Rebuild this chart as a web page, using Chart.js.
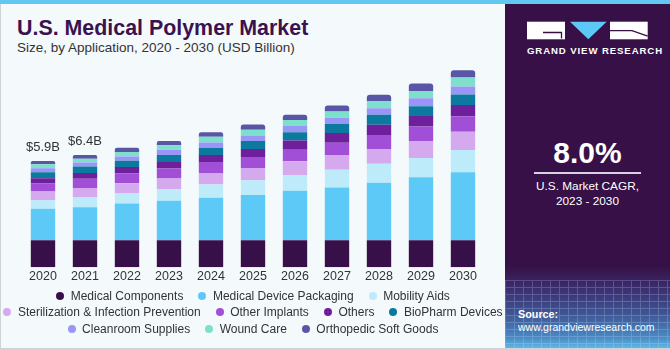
<!DOCTYPE html>
<html>
<head>
<meta charset="utf-8">
<script src="https://cdn.jsdelivr.net/npm/chart.js@4.4.1/dist/chart.umd.min.js"></script>
<style>
  html, body { margin: 0; padding: 0; }
  body { width: 670px; height: 350px; position: relative; overflow: hidden; background: #F4F9FC; font-family: "Liberation Sans", Arial, sans-serif; }
  #frame { position: absolute; left: 0; top: 0; width: 669px; height: 348px; border-left: 1px solid #cfd3d6; border-bottom: 2px solid #cfd3d6; box-sizing: content-box; }
  #topstrip { position: absolute; left: 0; top: 0; width: 670px; height: 4px; background: #62C8F2; }
  #title { position: absolute; left: 17px; top: 17.5px; font-size: 21.4px; line-height: 21px; font-weight: bold; color: #3A1250; white-space: nowrap; }
  #subtitle { position: absolute; left: 17px; top: 40.5px; font-size: 13.5px; line-height: 13.5px; color: #333; white-space: nowrap; }
  #chartwrap { position: absolute; left: 0; top: 0; width: 505px; height: 300px; }
  #legend { position: absolute; left: -7px; top: 287.5px; width: 520px; display: flex; flex-wrap: wrap; justify-content: center; column-gap: 15px; font-size: 12px; line-height: 16.5px; color: #333; }
  .li { display: inline-flex; align-items: center; white-space: nowrap; }
  .dot { width: 8px; height: 8px; border-radius: 50%; margin-right: 6.5px; }
  #panel { position: absolute; left: 505px; top: 4px; width: 165px; height: 344px; background: linear-gradient(to bottom, #361046 0%, #361046 76%, #3B2A6B 82%, #3E5593 90%, #4A8AC4 97%, #5DB7E6 100%); overflow: hidden; }
  #grid { position: absolute; left: 0; top: 276px; width: 165px; height: 70px; opacity: 0.22;
    background-image: repeating-linear-gradient(to right, #cfe6ff 0 1px, transparent 1px 9px), repeating-linear-gradient(to bottom, #cfe6ff 0 1px, transparent 1px 7px); }
  .pt { position: absolute; color: #fff; white-space: nowrap; }
</style>
</head>
<body>
<div id="frame"></div>
<div id="title">U.S. Medical Polymer Market</div>
<div id="subtitle">Size, by Application, 2020 - 2030 (USD Billion)</div>
<div id="chartwrap"><canvas id="c" width="505" height="300"></canvas></div>
<div id="legend"></div>
<div id="panel">
  <div id="grid"></div>
  <svg style="position:absolute;left:0;top:0" width="165" height="60">
    <rect x="22" y="17.7" width="38" height="17.6" fill="#ffffff"/>
    <path d="M38 28.5 H56.5 V34.5" stroke="#361046" stroke-width="1.3" fill="none"/>
    <polygon points="65,17.7 101.7,17.7 83.3,35.3" fill="#5BC8F5"/>
    <rect x="105" y="17.7" width="37.7" height="17.6" fill="#ffffff"/>
    <path d="M105 26.7 H127 L142.7 32.2" stroke="#361046" stroke-width="1.3" fill="none"/>
  </svg>
  <div class="pt" style="left:22px;top:40px;width:121px;text-align:center;font-size:9.6px;line-height:14px;font-weight:bold;letter-spacing:0.9px;">GRAND VIEW RESEARCH</div>
  <div class="pt" style="left:0;top:134px;width:165px;text-align:center;font-size:30px;line-height:30px;font-weight:bold;">8.0%</div>
  <div style="position:absolute;left:29px;top:168px;width:107px;height:1.5px;background:#d9d2e0;"></div>
  <div class="pt" style="left:0;top:175px;width:165px;text-align:center;font-size:11.8px;line-height:15px;">U.S. Market CAGR,<br>2023 - 2030</div>
  <div class="pt" style="left:13px;top:304px;font-size:10.8px;line-height:13px;font-weight:bold;">Source:</div>
  <div class="pt" style="left:13px;top:317px;font-size:10.5px;line-height:13px;">www.grandviewresearch.com</div>
</div>
<div id="topstrip"></div>

<script>
// ---- data (USD Billion) ----
const years = ["2020","2021","2022","2023","2024","2025","2026","2027","2028","2029","2030"];
const medicalComponents = [1.53,1.53,1.53,1.53,1.53,1.53,1.53,1.53,1.53,1.53,1.53];
const medicalDevicePackaging = [1.77,1.86,2.07,2.22,2.39,2.55,2.78,2.96,3.24,3.54,3.82];
const mobilityAids = [0.48,0.54,0.56,0.65,0.74,0.82,0.89,1.01,1.06,1.09,1.26];
const sterilization = [0.49,0.54,0.58,0.60,0.63,0.70,0.77,0.82,0.84,0.95,1.03];
const otherImplants = [0.45,0.52,0.54,0.56,0.64,0.61,0.65,0.69,0.78,0.82,0.87];
const others = [0.30,0.32,0.37,0.37,0.39,0.45,0.53,0.56,0.58,0.60,0.64];
const bioPharmDevices = [0.34,0.37,0.35,0.39,0.41,0.45,0.46,0.50,0.56,0.54,0.59];
const cleanroomSupplies = [0.22,0.22,0.24,0.30,0.30,0.32,0.35,0.36,0.37,0.45,0.45];
const woundCare = [0.22,0.22,0.26,0.26,0.32,0.32,0.34,0.35,0.41,0.41,0.50];
const orthopedicSoftGoods = [0.19,0.21,0.24,0.24,0.26,0.30,0.30,0.34,0.35,0.42,0.41];
const valueLabels = ["$5.9B","$6.4B",null,null,null,null,null,null,null,null,null];

const seriesNames = ["Medical Components","Medical Device Packaging","Mobility Aids","Sterilization & Infection Prevention","Other Implants","Others","BioPharm Devices","Cleanroom Supplies","Wound Care","Orthopedic Soft Goods"];
const seriesData = [medicalComponents, medicalDevicePackaging, mobilityAids, sterilization, otherImplants, others, bioPharmDevices, cleanroomSupplies, woundCare, orthopedicSoftGoods];
const seriesColors = ["#37104A","#5CC9F6","#BEEBFA","#D5A9EE","#A24FD8","#6E1F9C","#0B7A9E","#9A96F8","#7CE0CB","#5A56A6"];

const datasets = seriesNames.map((name, i) => ({
  label: name,
  data: seriesData[i],
  backgroundColor: seriesColors[i],
  borderWidth: 0,
  borderRadius: i === seriesNames.length - 1 ? {topLeft: 3, topRight: 3} : 0,
  borderSkipped: false,
  barPercentage: 0.58,
  categoryPercentage: 1.0
}));

const valueLabelPlugin = {
  id: 'valueLabels',
  afterDatasetsDraw(chart) {
    const ctx = chart.ctx;
    const xs = chart.scales.x, ys = chart.scales.y;
    ctx.save();
    ctx.font = '13px "Liberation Sans", Arial, sans-serif';
    ctx.fillStyle = '#333';
    ctx.textAlign = 'center';
    ctx.textBaseline = 'alphabetic';
    valueLabels.forEach((lab, i) => {
      if (!lab) return;
      let total = 0;
      seriesData.forEach(s => total += s[i]);
      ctx.fillText(lab, xs.getPixelForValue(i), ys.getPixelForValue(total) - 10);
    });
    ctx.restore();
  }
};

new Chart(document.getElementById('c'), {
  type: 'bar',
  data: { labels: years, datasets },
  options: {
    responsive: false,
    animation: false,
    devicePixelRatio: 1,
    layout: { padding: { left: 22, right: 21, top: 54.3, bottom: 13.7 } },
    plugins: { legend: { display: false }, tooltip: { enabled: false } },
    scales: {
      x: {
        stacked: true,
        grid: { display: false, drawTicks: false },
        border: { display: false },
        ticks: { color: '#333', font: { size: 12.5, family: '"Liberation Sans", Arial, sans-serif' }, padding: 2, maxRotation: 0 }
      },
      y: { stacked: true, display: false, min: 0, max: 12 }
    }
  },
  plugins: [valueLabelPlugin]
});

// HTML legend built from the series arrays
const lg = document.getElementById('legend');
seriesNames.forEach((n, i) => {
  const it = document.createElement('span');
  it.className = 'li';
  const d = document.createElement('span');
  d.className = 'dot';
  d.style.background = seriesColors[i];
  it.appendChild(d);
  it.appendChild(document.createTextNode(n));
  lg.appendChild(it);
});
</script>
</body>
</html>
